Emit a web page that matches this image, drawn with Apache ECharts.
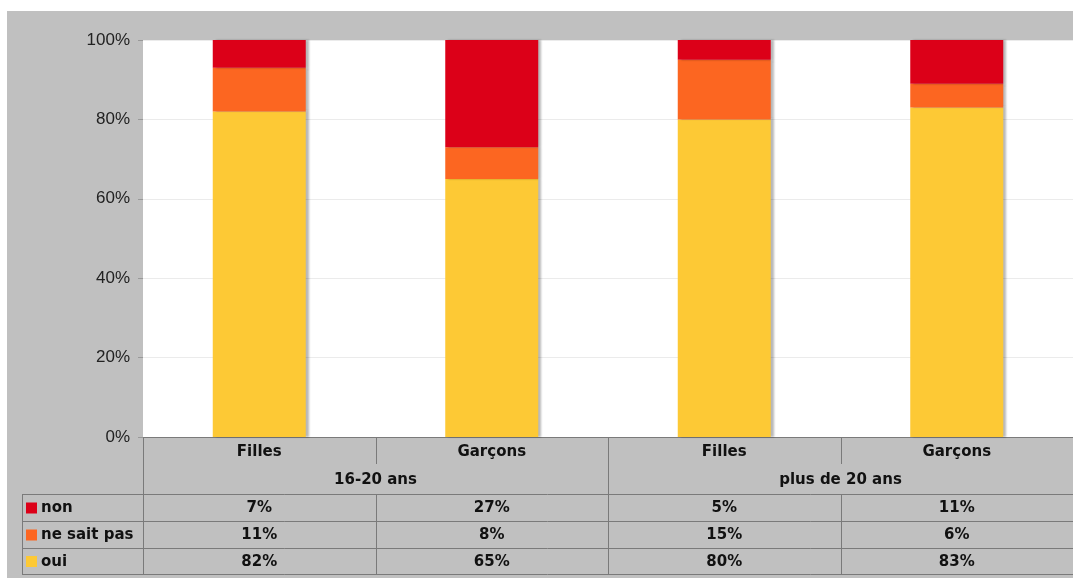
<!DOCTYPE html>
<html><head><meta charset="utf-8">
<script src="https://cdn.jsdelivr.net/npm/echarts@6/dist/echarts.min.js"></script>
<style>html,body{margin:0;padding:0;background:#fff;}#c{position:absolute;left:7px;top:11px;width:1066px;height:567px;}</style>
</head><body><div id="c"></div>
<script>
const categories = ['Filles', 'Garçons', 'Filles', 'Garçons'];
const groups = ['16-20 ans', 'plus de 20 ans'];
const seriesNames = ['non', 'ne sait pas', 'oui'];
const non = [7, 27, 5, 11];
const neSaitPas = [11, 8, 15, 6];
const oui = [82, 65, 80, 83];
const yTicks = [0, 20, 40, 60, 80, 100];
const colors = { 'non': '#DC0018', 'ne sait pas': '#FC6621', 'oui': '#FDC935' };

const chart = echarts.init(document.getElementById('c'));
const barStyle = c => ({ color: c, shadowColor: 'rgba(0,0,0,0.28)', shadowBlur: 2, shadowOffsetX: 3, shadowOffsetY: 0 });
const option = {
  backgroundColor: '#C0C0C0',
  animation: false,
  grid: { left: 136, top: 29, right: 0, bottom: 141, show: true, backgroundColor: '#ffffff', borderWidth: 0 },
  xAxis: {
    type: 'category', data: categories,
    axisLine: { show: true, lineStyle: { color: '#7a7a7a', width: 1 } },
    axisTick: { show: false },
    axisLabel: { show: true, margin: 8, fontFamily: 'DejaVu Sans', fontWeight: 'bold', fontSize: 15, color: '#111' }
  },
  yAxis: {
    type: 'value', min: yTicks[0], max: yTicks[yTicks.length - 1], interval: 20,
    axisLine: { show: false },
    axisTick: { show: true, length: 5, lineStyle: { color: '#999' } },
    axisLabel: { formatter: '{value}%', margin: 13, fontFamily: 'Liberation Sans', fontSize: 17, color: '#222' },
    splitLine: { show: true, lineStyle: { color: '#ebebeb', width: 1 } }
  },
  series: [
    { name: 'oui', type: 'bar', stack: 's', data: oui, barWidth: '40%', itemStyle: barStyle(colors['oui']) },
    { name: 'ne sait pas', type: 'bar', stack: 's', data: neSaitPas, itemStyle: barStyle(colors['ne sait pas']) },
    { name: 'non', type: 'bar', stack: 's', data: non, itemStyle: barStyle(colors['non']) }
  ]
};
chart.setOption(option);

// Data table below the chart
const ox = 7, oy = 11;
const axisY = 437 - oy;
const rowTops = [494 - oy, 521 - oy, 548 - oy, 574 - oy];
const leftX = 22 - ox;
const rightX = 1066;
const centers = categories.map((c, i) => chart.convertToPixel({ xAxisIndex: 0 }, i));
const step = centers[1] - centers[0];
const bounds = [centers[0] - step / 2];
centers.forEach(c => bounds.push(c + step / 2));
const lineStyle = { stroke: '#7a7a7a', lineWidth: 1 };
const g = [];
const hline = (x1, x2, y) => g.push({ type: 'line', shape: { x1, y1: Math.round(y) + 0.5, x2, y2: Math.round(y) + 0.5 }, style: lineStyle, silent: true });
const vline = (x, y1, y2) => g.push({ type: 'line', shape: { x1: Math.round(x) + 0.5, y1, x2: Math.round(x) + 0.5, y2 }, style: lineStyle, silent: true });
// vertical lines
vline(bounds[0], axisY, rowTops[3]);
vline(bounds[1], axisY, axisY + 27);
vline(bounds[3], axisY, axisY + 27);
vline(bounds[2], axisY, rowTops[3]);
vline(bounds[1], rowTops[0], rowTops[3]);
vline(bounds[3], rowTops[0], rowTops[3]);
vline(leftX, rowTops[0], rowTops[3]);
rowTops.forEach(y => hline(leftX, rightX, y));
// group labels
const txt = (x, y, text, align) => g.push({ type: 'text', x, y, style: { text, fill: '#111', font: 'bold 15px "DejaVu Sans"', align: align || 'center', verticalAlign: 'middle' }, silent: true });
groups.forEach((gr, i) => txt(bounds[2 * i + 1], 480 - oy, gr));
// data rows
const rows = [non, neSaitPas, oui];
seriesNames.forEach((n, r) => {
  const cy = (rowTops[r] + rowTops[r + 1]) / 2 + 1;
  g.push({ type: 'rect', shape: { x: 26 - ox, y: cy - 6, width: 11, height: 11 }, style: { fill: colors[n] }, silent: true });
  txt(41 - ox, cy, n, 'left');
  rows[r].forEach((v, i) => txt(centers[i], cy, v + '%'));
});
chart.setOption({ graphic: { elements: g } });
</script></body></html>
